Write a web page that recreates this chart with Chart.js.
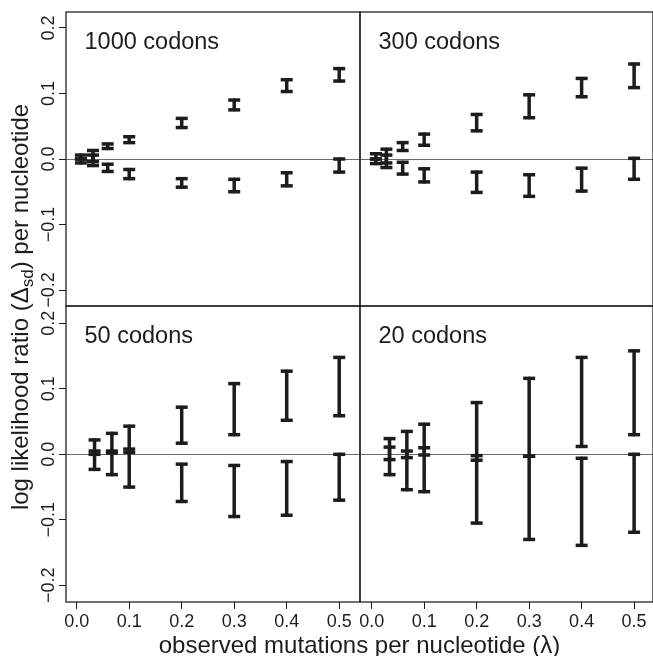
<!DOCTYPE html>
<html>
<head>
<meta charset="utf-8">
<script src="https://cdn.jsdelivr.net/npm/chart.js@4"></script>
<style>
  body { margin: 0; background: #fff; }
  #wrap { position: relative; width: 653px; height: 656px; overflow: hidden;
          font-family: "Liberation Sans", Arial, sans-serif; color: #1c1c1c; }
  canvas { position: absolute; }
  #xTitle { position: absolute; left: 66px; width: 587px; top: 633px; height: 24px;
            line-height: 24px; font-size: 24px; text-align: center; white-space: nowrap; }
  #yTitle { position: absolute; left: -230px; top: 295px; width: 500px; height: 24px;
            line-height: 24px; font-size: 24px; text-align: center; white-space: nowrap;
            transform: rotate(-90deg); }
  #yTitle sub { font-size: 17px; vertical-align: -5px; line-height: 0; }
</style>
</head>
<body>
<div id="wrap">
  <canvas id="c1000" width="363" height="308" style="left:0px;top:0px;width:363px;height:308px"></canvas>
  <canvas id="c300" width="296" height="308" style="left:357px;top:0px;width:296px;height:308px"></canvas>
  <canvas id="c50" width="363" height="352" style="left:0px;top:304px;width:363px;height:352px"></canvas>
  <canvas id="c20" width="296" height="352" style="left:357px;top:304px;width:296px;height:352px"></canvas>
  <div id="xTitle">observed mutations per nucleotide (λ)</div>
  <div id="yTitle">log likelihood ratio (Δ<sub>sd</sub>) per nucleotide</div>
</div>
<script>
// axis ticks
const xTicks = [0, 0.1, 0.2, 0.3, 0.4, 0.5];
const xTickLabels = ["0.0", "0.1", "0.2", "0.3", "0.4", "0.5"];
const yTicks = [-0.2, -0.1, 0, 0.1, 0.2];
const yTickLabels = ["\u22120.2", "\u22120.1", "0.0", "0.1", "0.2"];

// 1000 codons
const lam1000 = [0.008, 0.031, 0.059, 0.1, 0.2, 0.3, 0.4, 0.5];
const up1000Lo = [0.0, -0.004, 0.016, 0.025, 0.048, 0.075, 0.103, 0.119];
const up1000Hi = [0.006, 0.013, 0.023, 0.034, 0.062, 0.090, 0.121, 0.138];
const dn1000Lo = [-0.006, -0.010, -0.019, -0.030, -0.043, -0.050, -0.041, -0.020];
const dn1000Hi = [0.0, 0.006, -0.008, -0.016, -0.030, -0.031, -0.021, 0.0];

// 300 codons
const lam300 = [0.008, 0.028, 0.059, 0.1, 0.2, 0.3, 0.4, 0.5];
const up300Lo = [0.0, -0.006, 0.013, 0.021, 0.043, 0.063, 0.095, 0.109];
const up300Hi = [0.008, 0.015, 0.025, 0.038, 0.068, 0.098, 0.123, 0.145];
const dn300Lo = [-0.007, -0.013, -0.023, -0.035, -0.051, -0.057, -0.049, -0.031];
const dn300Hi = [0.0, 0.006, -0.005, -0.015, -0.020, -0.024, -0.014, 0.001];

// 50 codons
const lam50 = [0.034, 0.067, 0.1, 0.2, 0.3, 0.4, 0.5];
const up50Lo = [0.0, 0.002, 0.003, 0.017, 0.030, 0.052, 0.059];
const up50Hi = [0.022, 0.032, 0.043, 0.072, 0.108, 0.127, 0.148];
const dn50Lo = [-0.023, -0.031, -0.050, -0.072, -0.095, -0.093, -0.070];
const dn50Hi = [0.005, 0.005, 0.008, -0.015, -0.017, -0.011, 0.0];

// 20 codons
const lam20 = [0.034, 0.067, 0.1, 0.2, 0.3, 0.4, 0.5];
const up20Lo = [-0.008, -0.005, -0.001, -0.009, -0.003, 0.012, 0.030];
const up20Hi = [0.024, 0.035, 0.046, 0.079, 0.116, 0.148, 0.158];
const dn20Lo = [-0.031, -0.054, -0.057, -0.105, -0.130, -0.139, -0.119];
const dn20Hi = [0.011, 0.005, 0.010, -0.002, -0.003, -0.006, 0.0];

const ink = "#1c1c1c";
const fontFamily = '"Liberation Sans", Arial, sans-serif';

const panels = [
  { id: "c1000", title: "1000 codons", lam: lam1000, upLo: up1000Lo, upHi: up1000Hi, dnLo: dn1000Lo, dnHi: dn1000Hi,
    pad: { top: 12, right: 3, bottom: 2, left: 0 }, yAxis: true, xAxis: false, xmin: -0.0204, xmax: 0.5396, ymin: -0.2244, ymax: 0.2244 },
  { id: "c300", title: "300 codons", lam: lam300, upLo: up300Lo, upHi: up300Hi, dnLo: dn300Lo, dnHi: dn300Hi,
    pad: { top: 12, right: 0, bottom: 2, left: 3 }, yAxis: false, xAxis: false, xmin: -0.0223, xmax: 0.536, ymin: -0.2244, ymax: 0.2244 },
  { id: "c50", title: "50 codons", lam: lam50, upLo: up50Lo, upHi: up50Hi, dnLo: dn50Lo, dnHi: dn50Hi,
    pad: { top: 2, right: 3, bottom: 0, left: 0 }, yAxis: true, xAxis: true, xmin: -0.0204, xmax: 0.5396, ymin: -0.2255, ymax: 0.2265 },
  { id: "c20", title: "20 codons", lam: lam20, upLo: up20Lo, upHi: up20Hi, dnLo: dn20Lo, dnHi: dn20Hi,
    pad: { top: 2, right: 0, bottom: 0, left: 3 }, yAxis: false, xAxis: true, xmin: -0.0223, xmax: 0.536, ymin: -0.2255, ymax: 0.2265 }
];

// each bar = two points plus a null, so the line breaks between bars
function errorBars(xs, lo, hi) {
  const pts = [];
  xs.forEach((x, i) => {
    pts.push({ x: x, y: lo[i] }, { x: x, y: hi[i] }, { x: x, y: null });
  });
  return pts;
}

function barSet(points) {
  return {
    data: points,
    borderColor: ink,
    borderWidth: 3.5,
    borderCapStyle: "round",
    spanGaps: false,
    tension: 0,
    pointStyle: "line",
    pointRadius: 6,
    pointHoverRadius: 6,
    pointBorderWidth: 3.5,
    pointBorderColor: ink,
    clip: false
  };
}

function decor(p) {
  return {
    id: "decor_" + p.id,
    afterDraw(chart) {
      const ctx = chart.ctx;
      const a = chart.chartArea;
      ctx.save();
      ctx.strokeStyle = "#222";
      ctx.lineWidth = 1.3;
      ctx.strokeRect(a.left, a.top, a.right - a.left, a.bottom - a.top);

      ctx.fillStyle = ink;
      ctx.font = "23.5px " + fontFamily;
      ctx.textAlign = "left";
      ctx.textBaseline = "alphabetic";
      ctx.fillText(p.title, a.left + 18.5, a.top + 36.5);

      ctx.font = "18px " + fontFamily;
      ctx.textAlign = "center";
      if (p.yAxis) {
        const ys = chart.scales.y;
        yTicks.forEach((v, i) => {
          ctx.save();
          ctx.translate(a.left - 12.5, ys.getPixelForValue(v));
          ctx.rotate(-Math.PI / 2);
          ctx.fillText(yTickLabels[i], 0, 0);
          ctx.restore();
        });
      }
      if (p.xAxis) {
        const xs = chart.scales.x;
        xTicks.forEach((v, i) => {
          ctx.fillText(xTickLabels[i], xs.getPixelForValue(v), a.bottom + 25);
        });
      }
      ctx.restore();
    }
  };
}

panels.forEach(p => {
  new Chart(document.getElementById(p.id), {
    type: "line",
    data: {
      datasets: [
        barSet(errorBars(p.lam, p.upLo, p.upHi)),
        barSet(errorBars(p.lam, p.dnLo, p.dnHi))
      ]
    },
    options: {
      responsive: false,
      animation: false,
      devicePixelRatio: 1,
      layout: { padding: p.pad, autoPadding: false },
      events: [],
      plugins: { legend: { display: false }, tooltip: { enabled: false } },
      scales: {
        x: {
          type: "linear",
          min: p.xmin,
          max: p.xmax,
          display: p.xAxis,
          afterBuildTicks: s => { s.ticks = xTicks.map(v => ({ value: v })); },
          afterFit: s => { s.height = p.xAxis ? 54 : 0; },
          ticks: { display: false },
          border: { display: false },
          grid: { color: "rgba(0,0,0,0)", drawTicks: true, tickLength: 7, tickColor: ink, tickWidth: 1 }
        },
        y: {
          type: "linear",
          min: p.ymin,
          max: p.ymax,
          afterBuildTicks: s => { s.ticks = yTicks.map(v => ({ value: v })); },
          afterFit: s => { s.width = p.yAxis ? 66 : 0; },
          ticks: { display: false },
          border: { display: false },
          grid: {
            color: c => (c.tick && c.tick.value === 0 ? "#6a6a6a" : "rgba(0,0,0,0)"),
            lineWidth: 1,
            drawTicks: p.yAxis,
            tickLength: 7,
            tickColor: ink,
            tickWidth: 1
          }
        }
      }
    },
    plugins: [decor(p)]
  });
});
</script>
</body>
</html>
